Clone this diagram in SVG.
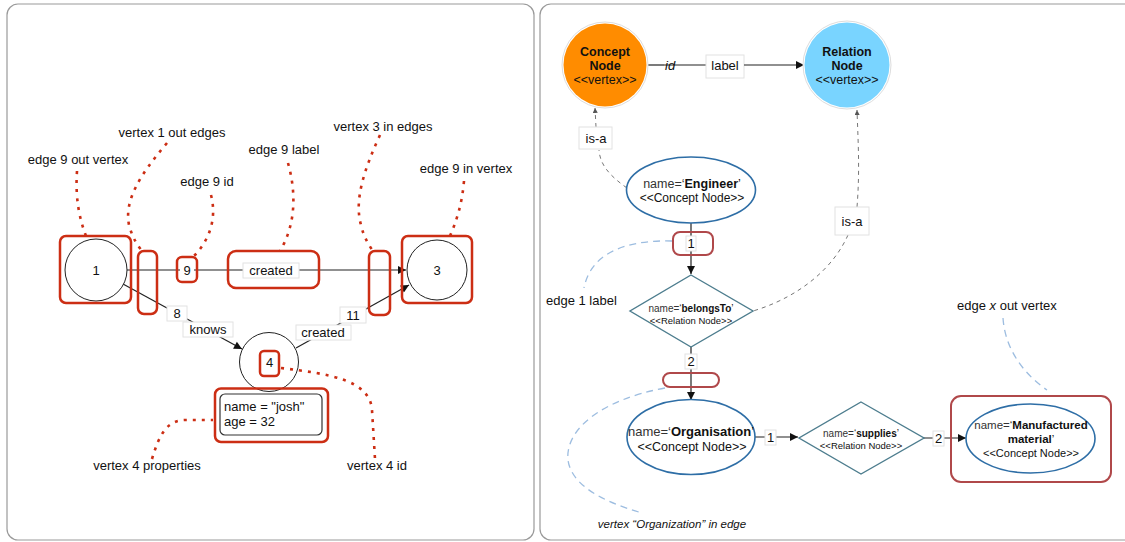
<svg xmlns="http://www.w3.org/2000/svg" width="1125" height="542" viewBox="0 0 1125 542">
  <defs>
    <style>
      text { font-family: "Liberation Sans", Arial, sans-serif; fill: #111; }
      .panel { fill: #fff; stroke: #9a9a9a; stroke-width: 1.2; }
      .vtx { fill: #fff; stroke: #222; stroke-width: 1; }
      .hl { fill: none; stroke: #cc2e14; stroke-width: 2.5; }
      .hl2 { fill: none; stroke: #b0484a; stroke-width: 2; }
      .lead { fill: none; stroke: #cc2e14; stroke-width: 2.6; stroke-dasharray: 3 6; }
      .edge { fill: none; stroke: #222; stroke-width: 1.2; }
      .isa { fill: none; stroke: #777; stroke-width: 1; stroke-dasharray: 4 4; }
      .note { fill: none; stroke: #9dbde0; stroke-width: 1.3; stroke-dasharray: 7 5; }
      .lbl { fill: #fff; stroke: #e2e2e2; stroke-width: 1; }
      .t13 { font-size: 13px; }
      .c { text-anchor: middle; }
      .concept { fill: #fff; stroke: #2e6ea6; stroke-width: 1.6; }
      .rel { fill: #fff; stroke: #4d7d8e; stroke-width: 1.4; }
    </style>
    <marker id="arr" viewBox="0 0 10 10" refX="10" refY="5" markerWidth="10" markerHeight="8" markerUnits="userSpaceOnUse" orient="auto">
      <path d="M0,0 L10,5 L0,10 z" fill="#111"/>
    </marker>
    <marker id="arrS" viewBox="0 0 10 10" refX="10" refY="5" markerWidth="5" markerHeight="5" markerUnits="userSpaceOnUse" orient="auto">
      <path d="M0,0 L10,5 L0,10 z" fill="#555"/>
    </marker>
  </defs>

  <!-- panels -->
  <rect class="panel" x="7" y="4" width="527" height="536" rx="11"/>
  <rect class="panel" x="540" y="4" width="600" height="536" rx="11"/>

  <!-- ===== left: property graph anatomy ===== -->
  <g id="connectors-left">
    <line class="edge" x1="127" y1="270" x2="406" y2="270" marker-end="url(#arr)"/>
    <line class="edge" x1="123" y1="284" x2="242" y2="349" marker-end="url(#arr)"/>
    <line class="edge" x1="296" y1="348" x2="409" y2="285" marker-end="url(#arr)"/>
    <rect class="lbl" x="167" y="306" width="20" height="15"/>
    <text class="t13 c" x="177" y="318">8</text>
    <rect class="lbl" x="183" y="322" width="50" height="15"/>
    <text class="t13 c" x="208" y="334">knows</text>
    <rect class="lbl" x="340" y="307" width="26" height="16"/>
    <text class="t13 c" x="353" y="320">11</text>
    <rect class="lbl" x="296" y="325" width="55" height="15"/>
    <text class="t13 c" x="323" y="337">created</text>
    <rect class="lbl" x="243" y="263" width="56" height="15"/>
    <text class="t13 c" x="271" y="275">created</text>
  </g>

  <g id="vertex-1">
    <circle class="vtx" cx="96" cy="270" r="31"/>
    <text class="t13 c" x="96" y="275">1</text>
  </g>
  <g id="vertex-3">
    <circle class="vtx" cx="437" cy="270" r="30"/>
    <text class="t13 c" x="437" y="275">3</text>
  </g>
  <g id="vertex-4">
    <circle class="vtx" cx="269" cy="362" r="29.5"/>
    <rect fill="#fff" x="260" y="351" width="19" height="25" rx="4"/>
    <text class="t13 c" x="269.5" y="367">4</text>
    <rect fill="#fff" stroke="#333" stroke-width="1.2" x="220" y="394" width="102" height="41" rx="5"/>
    <text class="t13" x="224" y="411">name = "josh"</text>
    <text class="t13" x="224" y="426">age = 32</text>
  </g>

  <g id="highlights">
    <rect class="hl" x="60" y="236" width="71" height="67" rx="6"/>
    <rect class="hl" x="138" y="251" width="19" height="63" rx="6"/>
    <rect class="hl" x="177" y="257" width="20" height="25" rx="5"/>
    <rect fill="#fff" x="180" y="262" width="14" height="15"/>
    <text class="t13 c" x="187" y="275">9</text>
    <rect class="hl" x="228" y="251" width="91" height="37" rx="8"/>
    <rect class="hl" x="369" y="251" width="21" height="64" rx="6"/>
    <rect class="hl" x="402" y="236" width="70" height="67" rx="6"/>
    <rect class="hl" x="260" y="351" width="19" height="25" rx="4"/>
    <rect class="hl" x="215" y="388.5" width="113" height="53.5" rx="6"/>
  </g>

  <g id="leaders-left">
    <path class="lead" d="M77,171 C75,200 80,220 86,236"/>
    <path class="lead" d="M167,143 C140,175 124,200 129,225 C133,240 139,247 142,251"/>
    <path class="lead" d="M211,195 C217,218 210,240 193,257"/>
    <path class="lead" d="M288,163 C297,195 295,226 280,251"/>
    <path class="lead" d="M380,135 C364,170 354,200 361,225 C364,238 369,245 373,251"/>
    <path class="lead" d="M464,181 C462,205 456,222 450,236"/>
    <path class="lead" d="M152,459 C160,432 168,420 186,420 L213,420"/>
    <path class="lead" d="M281,368 C330,374 370,380 372,410 L375,459"/>
    <text class="t13 c" x="78" y="164">edge 9 out vertex</text>
    <text class="t13 c" x="172" y="137">vertex 1 out edges</text>
    <text class="t13 c" x="207" y="186">edge 9 id</text>
    <text class="t13 c" x="284" y="154">edge 9 label</text>
    <text class="t13 c" x="383" y="131">vertex 3 in edges</text>
    <text class="t13 c" x="466" y="173">edge 9 in vertex</text>
    <text class="t13 c" x="147" y="470">vertex 4 properties</text>
    <text class="t13 c" x="377" y="470">vertex 4 id</text>
  </g>

  <!-- ===== right: ontology graph ===== -->
  <g id="connectors-right">
    <line class="edge" x1="647" y1="65" x2="664" y2="65"/>
    <line class="edge" x1="664" y1="65" x2="706" y2="65"/>
    <text class="t13" x="665" y="70" font-style="italic">id</text>
    <rect class="lbl" x="706" y="55" width="38" height="23"/>
    <text class="t13 c" x="725" y="70">label</text>
    <line class="edge" x1="744" y1="65" x2="804" y2="65" marker-end="url(#arr)"/>

    <path class="isa" d="M627,188 C610,176 600,165 599,150"/>
    <path class="isa" d="M596,127 L595,108" marker-end="url(#arrS)"/>
    <rect class="lbl" x="579" y="127" width="33" height="22"/>
    <text class="t13 c" x="596" y="143">is-a</text>

    <path class="isa" d="M848,235 C830,275 790,300 753,311"/>
    <path class="isa" d="M857,207 C860,170 858,140 857,110" marker-end="url(#arrS)"/>
    <rect class="lbl" x="835" y="207" width="34" height="28"/>
    <text class="t13 c" x="852" y="226">is-a</text>

    <line class="edge" x1="691" y1="223" x2="691" y2="274" marker-end="url(#arr)"/>
    <rect class="hl2" x="673" y="232" width="40" height="23" rx="7"/>
    <rect class="lbl" x="686" y="236" width="10" height="15"/>
    <text class="t13 c" x="691" y="248">1</text>

    <line class="edge" x1="691" y1="347" x2="691" y2="400" marker-end="url(#arr)"/>
    <rect class="lbl" x="685" y="354" width="12" height="15"/>
    <text class="t13 c" x="691" y="366">2</text>
    <rect class="hl2" x="663" y="373" width="56" height="14" rx="7"/>

    <line class="edge" x1="754" y1="437" x2="798" y2="437" marker-end="url(#arr)"/>
    <rect class="lbl" x="765" y="430" width="11" height="15"/>
    <text class="t13 c" x="770.5" y="442">1</text>

    <line class="edge" x1="924" y1="438" x2="966" y2="438" marker-end="url(#arr)"/>
    <rect class="lbl" x="933" y="431" width="11" height="15"/>
    <text class="t13 c" x="938.5" y="443">2</text>
    <rect class="hl2" x="951" y="396" width="160" height="86" rx="10"/>
  </g>

  <g id="concept-node">
    <circle cx="605" cy="65" r="43" fill="#fff" stroke="#ddd" stroke-width="1"/>
    <circle cx="605" cy="65" r="41.5" fill="#ff8c00"/>
    <text class="c" x="605" y="56" font-size="12.5" font-weight="bold">Concept</text>
    <text class="c" x="605" y="70" font-size="12.5" font-weight="bold">Node</text>
    <text class="c" x="605" y="84" font-size="12.5">&lt;&lt;vertex&gt;&gt;</text>
  </g>
  <g id="relation-node">
    <circle cx="847" cy="65" r="44" fill="#fff" stroke="#ddd" stroke-width="1"/>
    <circle cx="847" cy="65" r="42.5" fill="#79d4ff"/>
    <text class="c" x="847" y="56" font-size="12.5" font-weight="bold">Relation</text>
    <text class="c" x="847" y="70" font-size="12.5" font-weight="bold">Node</text>
    <text class="c" x="847" y="84" font-size="12.5">&lt;&lt;vertex&gt;&gt;</text>
  </g>
  <g id="engineer">
    <ellipse class="concept" cx="691" cy="190" rx="64.5" ry="33"/>
    <text class="c" x="692" y="188" font-size="12.5"><tspan fill="#333">name=‘</tspan><tspan font-weight="bold">Engineer</tspan>’</text>
    <text class="c" x="692" y="202" font-size="12" fill="#333">&lt;&lt;Concept Node&gt;&gt;</text>
  </g>
  <g id="belongs-to">
    <polygon class="rel" points="691,275 753,311 691,347 630,311"/>
    <text class="c" x="691" y="312" font-size="10"><tspan fill="#333">name=‘</tspan><tspan font-weight="bold">belongsTo</tspan>’</text>
    <text class="c" x="691" y="324" font-size="9.5" fill="#333">&lt;&lt;Relation Node&gt;&gt;</text>
  </g>
  <g id="organisation">
    <ellipse class="concept" cx="691" cy="437" rx="64" ry="37.5"/>
    <text class="c" x="691" y="436" font-size="13"><tspan fill="#333">name=‘</tspan><tspan font-weight="bold">Organisation</tspan>’</text>
    <text class="c" x="692" y="451" font-size="12.5" fill="#333">&lt;&lt;Concept Node&gt;&gt;</text>
  </g>
  <g id="supplies">
    <polygon class="rel" points="861,402 924,438 861,474 799,438"/>
    <text class="c" x="861" y="437" font-size="10"><tspan fill="#333">name=‘</tspan><tspan font-weight="bold">supplies</tspan>’</text>
    <text class="c" x="861" y="449" font-size="9.5" fill="#333">&lt;&lt;Relation Node&gt;&gt;</text>
  </g>
  <g id="manufactured-material">
    <ellipse class="concept" cx="1030.5" cy="438.5" rx="64.5" ry="34.5"/>
    <text class="c" x="1031" y="429" font-size="11.5"><tspan fill="#333">name=‘</tspan><tspan font-weight="bold">Manufactured</tspan></text>
    <text class="c" x="1031" y="443" font-size="11.5"><tspan font-weight="bold">material</tspan>’</text>
    <text class="c" x="1031" y="457" font-size="11" fill="#333">&lt;&lt;Concept Node&gt;&gt;</text>
  </g>

  <g id="notes-right">
    <path class="note" d="M672,241 C640,240 592,246 584,288"/>
    <path class="note" d="M665,388 C600,400 565,430 568,460 C572,490 615,505 642,513"/>
    <path class="note" d="M1003,318 C1005,350 1025,375 1047,390"/>
    <text class="t13" x="546" y="305">edge 1 label</text>
    <text class="c" x="672" y="528" font-size="11.5" font-style="italic">vertex “Organization” in edge</text>
    <text class="t13" x="957" y="310">edge <tspan font-style="italic">x</tspan> out vertex</text>
  </g>
</svg>
